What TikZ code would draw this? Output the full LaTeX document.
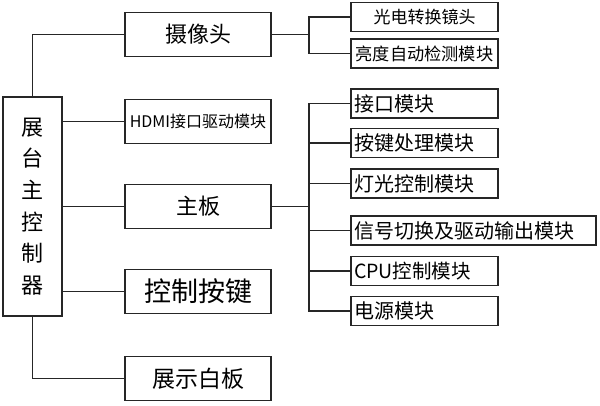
\documentclass[tikz,border=0pt]{standalone}
\usepackage{fontspec}
\setmainfont{Noto Sans CJK SC}
\begin{document}
\begin{tikzpicture}[x=1pt,y=-1pt,
  box/.style={draw=black!85,line width=1.1pt,inner sep=0pt,align=center},
  midbox/.style={box,minimum width=146pt,minimum height=44pt},
  rbox/.style={box,minimum height=29pt},
  lbox/.style={rbox,inner xsep=3pt,text width=141pt,align=left},
  link/.style={draw=black!85,line width=1.1pt}]
\useasboundingbox (0,0) rectangle (600,405);
% left controller
\node[box,minimum width=59pt,minimum height=219pt,
  font=\fontsize{22}{31.6}\selectfont] (ctrl) at (32.5,206.5)
  {展\\台\\主\\控\\制\\器};
% middle column
\node[midbox,font=\fontsize{22}{24}\selectfont] (cam) at (198,34.5) {摄像头};
\node[midbox,font=\fontsize{16}{18}\selectfont] (hdmi) at (198,121.5) {HDMI接口驱动模块};
\node[midbox,font=\fontsize{22}{24}\selectfont] (mb) at (198,206.5) {主板};
\node[midbox,font=\fontsize{27}{29}\selectfont] (key) at (198,291.5) {控制按键};
\node[midbox,font=\fontsize{23}{25}\selectfont] (wb) at (198,378.5) {展示白板};
% camera children
\node[rbox,minimum width=147pt,font=\fontsize{17}{19}\selectfont] (lens) at (424.5,17) {光电转换镜头};
\node[rbox,minimum width=147pt,font=\fontsize{17.2}{19}\selectfont] (bright) at (424.5,53.5) {亮度自动检测模块};
% main board children
\node[lbox,font=\fontsize{20}{22}\selectfont] (ifc) at (424.5,103.5) {接口模块};
\node[lbox,font=\fontsize{20}{22}\selectfont] (kp) at (424.5,143) {按键处理模块};
\node[lbox,font=\fontsize{20}{22}\selectfont] (lt) at (424.5,183.5) {灯光控制模块};
\node[rbox,inner xsep=3pt,text width=239pt,align=left,font=\fontsize{20}{22}\selectfont] (sig) at (473.5,230.5) {信号切换及驱动输出模块};
\node[lbox,font=\fontsize{19.5}{22}\selectfont] (cpu) at (424.5,271) {CPU控制模块};
\node[lbox,font=\fontsize{20}{22}\selectfont] (pw) at (424.5,311) {电源模块};
% connectors from controller
\draw[link] (ctrl.north) |- (cam.west);
\draw[link] (ctrl.south) |- (wb.west);
\draw[link] (ctrl.east |- hdmi.west) -- (hdmi.west);
\draw[link] (ctrl.east |- mb.west) -- (mb.west);
\draw[link] (ctrl.east |- key.west) -- (key.west);
% camera branch
\coordinate (cb) at (309,34.5);
\draw[link] (cam.east) -- (cb);
\draw[link] (lens.west) -| (cb);
\draw[link] (bright.west) -| (cb);
% main board branch
\coordinate (mbb) at (309,206.5);
\draw[link] (mb.east) -- (mbb);
\draw[link] (ifc.west) -| (mbb);
\draw[link] (kp.west) -| (mbb);
\draw[link] (lt.west) -| (mbb);
\draw[link] (sig.west) -| (mbb);
\draw[link] (cpu.west) -| (mbb);
\draw[link] (pw.west) -| (mbb);
\end{tikzpicture}
\end{document}
